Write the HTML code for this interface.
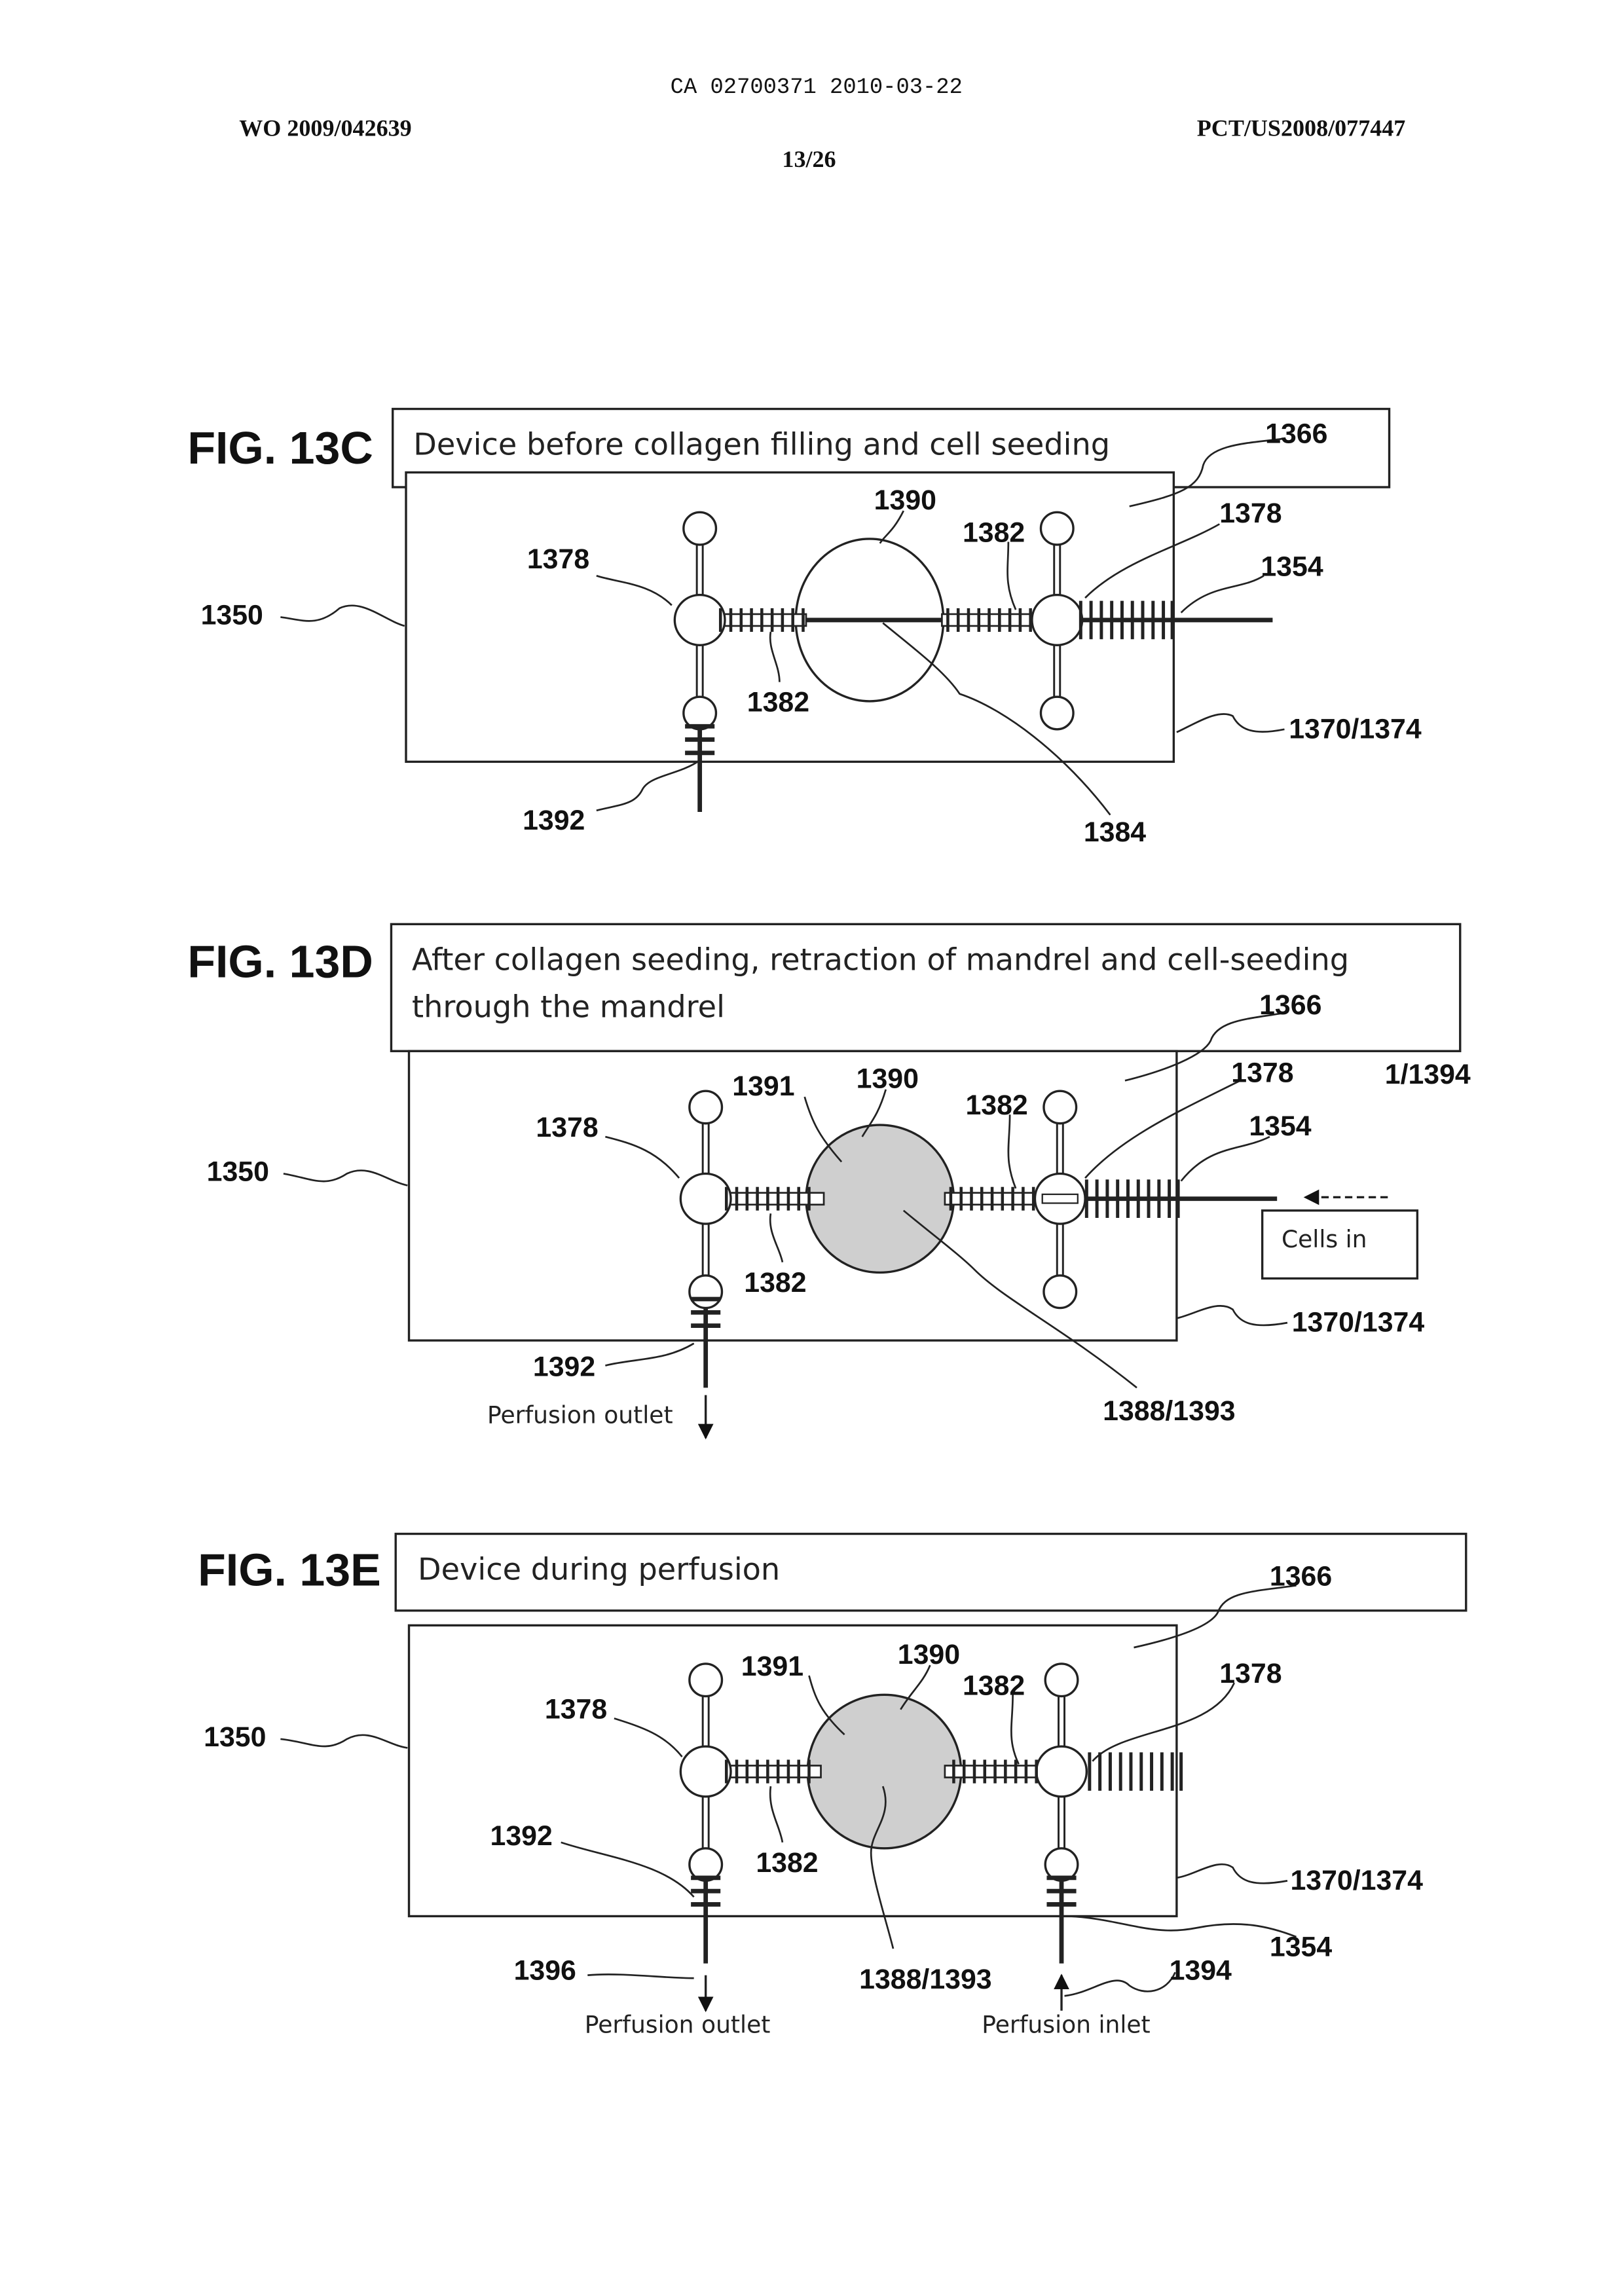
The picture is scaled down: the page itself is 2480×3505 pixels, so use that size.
<!DOCTYPE html>
<html><head><meta charset="utf-8"><style>
html,body{margin:0;padding:0;background:#fff;}
svg{display:block;}
.l{font-family:"Liberation Sans",Arial,sans-serif;font-weight:bold;font-size:19px;fill:#111;}
.c{font-family:"DejaVu Sans","Liberation Sans",sans-serif;font-size:20.5px;fill:#222;}
.s{font-family:"DejaVu Sans","Liberation Sans",sans-serif;font-size:16px;fill:#222;}
.f{font-family:"Liberation Sans",Arial,sans-serif;font-weight:bold;font-size:31px;fill:#111;}
.h{font-family:"Liberation Serif",serif;font-weight:bold;font-size:16px;fill:#111;}
.m{font-family:"Liberation Mono",monospace;font-size:15px;fill:#111;}
</style></head><body>
<svg width="2480" height="3505" viewBox="0 0 1100 1554.6" preserveAspectRatio="none" xmlns="http://www.w3.org/2000/svg">
<defs>
<g id="node">
 <line x1="-2" y1="-51" x2="-2" y2="-17" stroke="#222" stroke-width="1.3"/>
 <line x1="2" y1="-51" x2="2" y2="-17" stroke="#222" stroke-width="1.3"/>
 <line x1="-2" y1="17" x2="-2" y2="52" stroke="#222" stroke-width="1.3"/>
 <line x1="2" y1="17" x2="2" y2="52" stroke="#222" stroke-width="1.3"/>
 <circle cx="0" cy="-62" r="11" fill="#fff" stroke="#222" stroke-width="1.5"/>
 <circle cx="0" cy="63" r="11" fill="#fff" stroke="#222" stroke-width="1.5"/>
 <circle cx="0" cy="0" r="17" fill="#fff" stroke="#222" stroke-width="1.5"/>
</g>
<g id="coil" stroke="#222" stroke-width="2">
 <line x1="0" y1="-8" x2="0" y2="8"/><line x1="7" y1="-8" x2="7" y2="8"/><line x1="14" y1="-8" x2="14" y2="8"/>
 <line x1="21" y1="-8" x2="21" y2="8"/><line x1="28" y1="-8" x2="28" y2="8"/><line x1="35" y1="-8" x2="35" y2="8"/>
 <line x1="42" y1="-8" x2="42" y2="8"/><line x1="49" y1="-8" x2="49" y2="8"/><line x1="56" y1="-8" x2="56" y2="8"/>
</g>
<g id="bigcoil" stroke="#222" stroke-width="2.2">
 <line x1="0" y1="-13" x2="0" y2="13"/><line x1="7" y1="-13" x2="7" y2="13"/><line x1="14" y1="-13" x2="14" y2="13"/>
 <line x1="21" y1="-13" x2="21" y2="13"/><line x1="28" y1="-13" x2="28" y2="13"/><line x1="35" y1="-13" x2="35" y2="13"/>
 <line x1="42" y1="-13" x2="42" y2="13"/><line x1="49" y1="-13" x2="49" y2="13"/><line x1="56" y1="-13" x2="56" y2="13"/>
 <line x1="62" y1="-13" x2="62" y2="13"/>
</g>
<g id="bars" stroke="#222" stroke-width="3">
 <line x1="-10" y1="0" x2="10" y2="0"/><line x1="-10" y1="9" x2="10" y2="9"/><line x1="-10" y1="18" x2="10" y2="18"/>
</g>
<marker id="ah" viewBox="0 0 10 10" refX="9" refY="5" markerWidth="7" markerHeight="7" orient="auto"><path d="M0,0L10,5L0,10z" fill="#111"/></marker>
</defs>

<text class="m" x="553" y="63" text-anchor="middle">CA 02700371 2010-03-22</text>
<text class="h" x="162" y="92">WO 2009/042639</text>
<text class="h" x="952" y="92" text-anchor="end">PCT/US2008/077447</text>
<text class="h" x="548" y="113" text-anchor="middle">13/26</text>

<g fill="none" stroke="#222" stroke-width="1.5">
<rect x="266" y="277" width="675" height="53"/>
<rect x="275" y="320" width="520" height="196" fill="#fff"/>
<line x1="474" y1="420" x2="862" y2="420" stroke-width="3"/>
<line x1="474" y1="483" x2="474" y2="550" stroke-width="3"/>
<ellipse cx="589" cy="420" rx="50" ry="55"/>
<rect x="486" y="416" width="60" height="8" fill="#fff" stroke-width="1.2"/>
<rect x="638" y="416" width="62" height="8" fill="#fff" stroke-width="1.2"/>
</g>
<use href="#node" x="474" y="420"/><use href="#node" x="716" y="420"/>
<use href="#coil" x="488" y="420"/><use href="#coil" x="642" y="420"/><use href="#bigcoil" x="732" y="420"/>
<use href="#bars" x="474" y="492"/>
<g fill="none" stroke="#222" stroke-width="1.2">
<path d="M190,418 C205,420 215,425 230,412 C245,405 260,420 274,424"/>
<path d="M870,297 C850,300 820,300 815,315 C812,330 800,335 765,343"/>
<path d="M404,390 C420,395 440,395 455,410"/>
<path d="M612,346 C605,360 600,362 596,368"/>
<path d="M683,367 C683,385 680,395 688,413"/>
<path d="M826,355 C800,370 760,380 735,405"/>
<path d="M856,390 C840,400 820,395 800,415"/>
<path d="M528,462 C528,450 520,440 522,428"/>
<path d="M870,494 C850,498 840,495 835,485 C825,480 810,490 797,496"/>
<path d="M404,549 C420,545 430,545 435,535 C440,525 460,525 474,515"/>
<path d="M752,552 C720,510 680,480 650,470 C640,455 620,440 598,422"/>
</g>
<text class="f" x="127" y="314">FIG. 13C</text>
<text class="c" x="280" y="308">Device before collagen filling and cell seeding</text>
<text class="l" x="857" y="300">1366</text>
<text class="l" x="357" y="385">1378</text>
<text class="l" x="592" y="345">1390</text>
<text class="l" x="652" y="367">1382</text>
<text class="l" x="826" y="354">1378</text>
<text class="l" x="854" y="390">1354</text>
<text class="l" x="136" y="423">1350</text>
<text class="l" x="506" y="482">1382</text>
<text class="l" x="873" y="500">1370/1374</text>
<text class="l" x="354" y="562">1392</text>
<text class="l" x="734" y="570">1384</text>

<g fill="none" stroke="#222" stroke-width="1.5">
<rect x="265" y="626" width="724" height="86"/>
<rect x="277" y="712" width="520" height="196" fill="#fff"/>
<line x1="478" y1="812" x2="865" y2="812" stroke-width="3"/>
<line x1="478" y1="875" x2="478" y2="940" stroke-width="3"/>
<circle cx="596" cy="812" r="50" fill="#cfcfcf"/>
<rect x="490" y="808" width="68" height="8" fill="#fff" stroke-width="1.2"/>
<rect x="640" y="808" width="62" height="8" fill="#fff" stroke-width="1.2"/>
<rect x="855" y="820" width="105" height="46"/>
<line x1="940" y1="811" x2="884" y2="811" stroke-dasharray="5,3" marker-end="url(#ah)"/>
<line x1="478" y1="945" x2="478" y2="974" marker-end="url(#ah)"/>
</g>
<use href="#node" x="478" y="812"/><use href="#node" x="718" y="812"/>
<rect x="706" y="809" width="24" height="6" fill="#fff" stroke="#222"/>
<use href="#coil" x="492" y="812"/><use href="#coil" x="644" y="812"/><use href="#bigcoil" x="736" y="812"/>
<use href="#bars" x="478" y="880"/>
<g fill="none" stroke="#222" stroke-width="1.2">
<path d="M192,795 C210,798 220,805 235,795 C250,788 262,800 276,803"/>
<path d="M870,686 C850,690 825,690 820,705 C815,715 790,725 762,732"/>
<path d="M410,770 C430,775 445,780 460,798"/>
<path d="M545,743 C550,760 555,770 570,787"/>
<path d="M600,738 C595,755 590,760 584,770"/>
<path d="M684,755 C684,775 680,785 688,805"/>
<path d="M840,732 C800,752 760,770 735,798"/>
<path d="M860,770 C840,780 820,775 800,800"/>
<path d="M530,855 C528,845 520,835 522,822"/>
<path d="M872,896 C850,900 840,897 835,887 C825,880 810,890 797,893"/>
<path d="M410,925 C430,920 450,922 470,910"/>
<path d="M770,940 C720,900 680,880 660,860 C650,850 630,835 612,820"/>
</g>
<text class="f" x="127" y="662">FIG. 13D</text>
<text class="c" x="279" y="657">After collagen seeding, retraction of mandrel and cell-seeding</text>
<text class="c" x="279" y="689">through the mandrel</text>
<text class="l" x="853" y="687">1366</text>
<text class="l" x="496" y="742">1391</text>
<text class="l" x="580" y="737">1390</text>
<text class="l" x="654" y="755">1382</text>
<text class="l" x="834" y="733">1378</text>
<text class="l" x="938" y="734">1/1394</text>
<text class="l" x="363" y="770">1378</text>
<text class="l" x="846" y="769">1354</text>
<text class="l" x="140" y="800">1350</text>
<text class="s" x="868" y="845">Cells in</text>
<text class="l" x="504" y="875">1382</text>
<text class="l" x="875" y="902">1370/1374</text>
<text class="l" x="361" y="932">1392</text>
<text class="l" x="747" y="962">1388/1393</text>
<text class="s" x="330" y="964">Perfusion outlet</text>

<g fill="none" stroke="#222" stroke-width="1.5">
<rect x="268" y="1039" width="725" height="52"/>
<rect x="277" y="1101" width="520" height="197" fill="#fff"/>
<line x1="478" y1="1263" x2="478" y2="1330" stroke-width="3"/>
<line x1="719" y1="1263" x2="719" y2="1330" stroke-width="3"/>
<circle cx="599" cy="1200" r="52" fill="#cfcfcf"/>
<rect x="488" y="1196" width="68" height="8" fill="#fff" stroke-width="1.2"/>
<rect x="640" y="1196" width="62" height="8" fill="#fff" stroke-width="1.2"/>
<line x1="478" y1="1338" x2="478" y2="1362" marker-end="url(#ah)"/>
<line x1="719" y1="1362" x2="719" y2="1338" marker-end="url(#ah)"/>
</g>
<use href="#node" x="478" y="1200"/><use href="#node" x="719" y="1200"/>
<use href="#coil" x="492" y="1200"/><use href="#coil" x="646" y="1200"/><use href="#bigcoil" x="738" y="1200"/>
<use href="#bars" x="478" y="1272"/><use href="#bars" x="719" y="1272"/>
<g fill="none" stroke="#222" stroke-width="1.2">
<path d="M190,1178 C210,1180 220,1188 235,1178 C250,1170 262,1182 276,1184"/>
<path d="M878,1074 C850,1078 830,1078 825,1092 C820,1102 795,1110 768,1116"/>
<path d="M416,1164 C435,1170 450,1175 462,1190"/>
<path d="M548,1135 C552,1150 556,1160 572,1175"/>
<path d="M630,1128 C625,1140 618,1145 610,1158"/>
<path d="M686,1148 C686,1168 682,1178 690,1195"/>
<path d="M836,1140 C820,1175 760,1170 740,1193"/>
<path d="M530,1248 C528,1236 520,1226 522,1210"/>
<path d="M872,1274 C850,1278 840,1275 835,1265 C825,1258 810,1270 797,1272"/>
<path d="M380,1248 C410,1258 450,1262 470,1285"/>
<path d="M878,1312 C860,1305 840,1300 810,1306 C780,1312 760,1300 725,1298"/>
<path d="M398,1338 C420,1336 450,1340 470,1340"/>
<path d="M796,1336 C790,1350 775,1352 765,1345 C755,1335 740,1350 721,1352"/>
<path d="M605,1320 C600,1300 590,1270 590,1255 C590,1240 605,1230 598,1210"/>
</g>
<text class="f" x="134" y="1074">FIG. 13E</text>
<text class="c" x="283" y="1070">Device during perfusion</text>
<text class="l" x="860" y="1074">1366</text>
<text class="l" x="502" y="1135">1391</text>
<text class="l" x="608" y="1127">1390</text>
<text class="l" x="652" y="1148">1382</text>
<text class="l" x="826" y="1140">1378</text>
<text class="l" x="369" y="1164">1378</text>
<text class="l" x="138" y="1183">1350</text>
<text class="l" x="332" y="1250">1392</text>
<text class="l" x="512" y="1268">1382</text>
<text class="l" x="874" y="1280">1370/1374</text>
<text class="l" x="860" y="1325">1354</text>
<text class="l" x="348" y="1341">1396</text>
<text class="l" x="582" y="1347">1388/1393</text>
<text class="l" x="792" y="1341">1394</text>
<text class="s" x="396" y="1377">Perfusion outlet</text>
<text class="s" x="665" y="1377">Perfusion inlet</text>
</svg>
</body></html>
